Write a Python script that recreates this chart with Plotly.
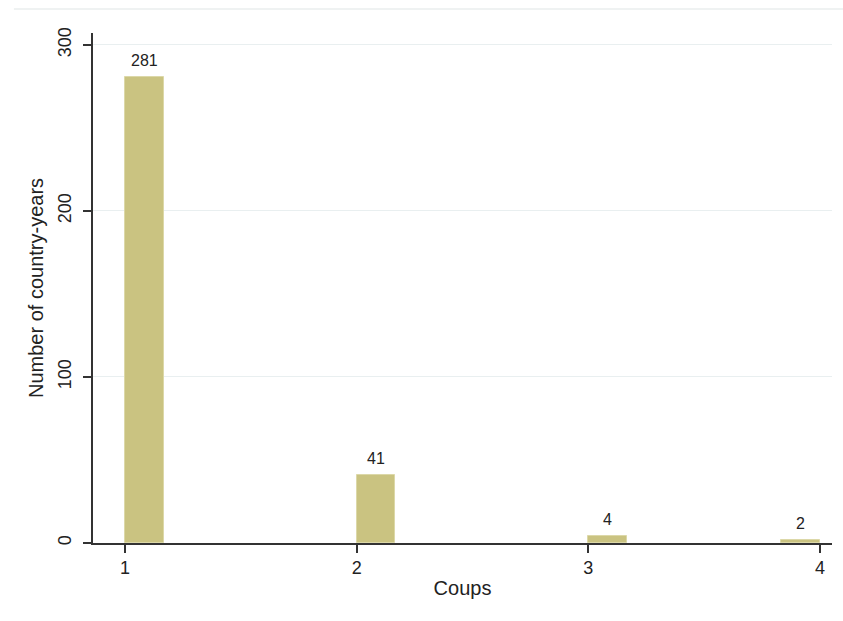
import plotly.graph_objects as go
import math

# Data
coups = [1, 2, 3, 4]
counts = [281, 41, 4, 2]
y_ticks = [0, 100, 200, 300]
x_ticks = [1, 2, 3, 4]

# Stata-style histogram binning: 18 bins over [1, 4]
nbins = 18
lo, hi = min(coups), max(coups)
width = (hi - lo) / nbins
centers = []
for v in coups:
    idx = min(int(math.floor((v - lo) / width + 1e-9)), nbins - 1)
    centers.append(lo + idx * width + width / 2)

fig = go.Figure()
fig.add_trace(go.Bar(
    x=centers, y=counts, width=width,
    marker=dict(color="#cac381", line=dict(color="#dcd8a8", width=1)),
    showlegend=False,
))

for cx, c in zip(centers, counts):
    fig.add_annotation(x=cx, y=c, text=str(c), showarrow=False,
                       yanchor="bottom", yshift=6,
                       font=dict(family="Liberation Sans, Arial", size=16, color="#222"))

fig.update_layout(
    width=843, height=621,
    margin=dict(l=93, r=11, t=33, b=78),
    paper_bgcolor="white", plot_bgcolor="white",
    font=dict(family="Liberation Sans, Arial", size=18, color="#222"),
    bargap=0,
    xaxis=dict(
        range=[0.862, 4.052], tickvals=x_ticks, ticktext=[str(t) for t in x_ticks],
        showgrid=False, zeroline=False,
        showline=True, linecolor="#333", linewidth=1.5,
        ticks="outside", ticklen=8, tickcolor="#333", tickwidth=1.5,
        tickfont=dict(size=18),
        title=dict(text="Coups", font=dict(size=20), standoff=4),
    ),
    yaxis=dict(
        range=[0, 307.2], tickvals=y_ticks,
        showgrid=True, gridcolor="#e9eff0", gridwidth=1,
        zeroline=False,
        showline=True, linecolor="#333", linewidth=1.5,
        ticks="outside", ticklen=8, tickcolor="#333", tickwidth=1.5,
        tickangle=-90, tickfont=dict(size=18), ticklabelstandoff=5,
        title=dict(text="Number of country-years", font=dict(size=20), standoff=6),
    ),
    shapes=[dict(type="line", xref="paper", yref="paper",
                 x0=-0.107, x1=1.02, y0=(621 - 9 - 78) / (621 - 33 - 78), y1=(621 - 9 - 78) / (621 - 33 - 78),
                 line=dict(color="#eaeeee", width=1.5))],
)

fig.write_html("out.html")
